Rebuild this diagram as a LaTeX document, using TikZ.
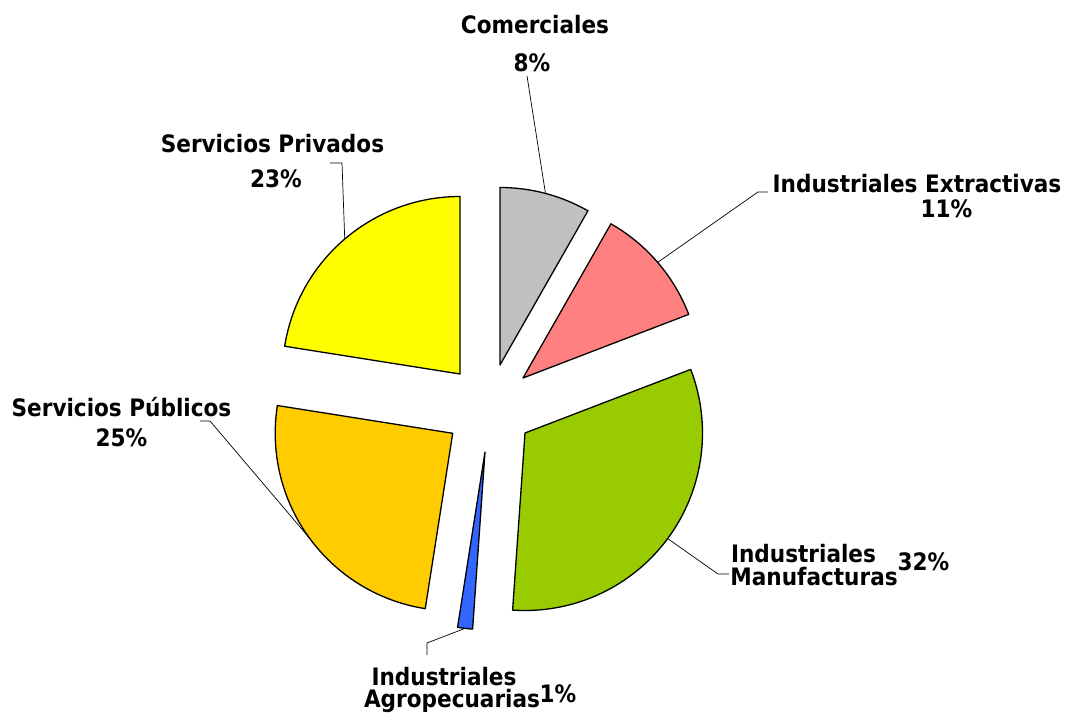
\documentclass[tikz,border=0pt]{standalone}
\usepackage{fontspec}
\newfontfamily\lblfont{DejaVu Sans Condensed Bold}
\usetikzlibrary{calc}
\definecolor{sgray}{HTML}{C0C0C0}
\definecolor{spink}{HTML}{FF8080}
\definecolor{sgreen}{HTML}{99CC00}
\definecolor{sblue}{HTML}{3366FF}
\definecolor{sorange}{HTML}{FFCC00}
\definecolor{syellow}{HTML}{FFFF00}
\begin{document}
\begin{tikzpicture}[x=1pt,y=1pt,
  slice/.style={draw=black, line width=1.3pt, line join=round},
  leader/.style={draw=black, line width=0.7pt},
  lbl/.style={font=\lblfont\fontsize{24}{24}\selectfont, anchor=base, inner sep=0pt}]
\useasboundingbox (0,0) rectangle (1066,715);
\def\R{177.5}
\foreach \n/\ax/\ay/\sa/\ea/\col in {
  g/500/350/90/60.3/sgray,
  p/523/337/60.3/21.0/spink,
  m/525/282/21.0/-94.0/sgreen,
  b/485/263/-94.0/-98.9/sblue,
  o/452.7/281.7/-98.9/-189/sorange,
  y/460/341/-189/-270/syellow} {
  \draw[slice, fill=\col] (\ax,\ay) -- ++(\sa:\R) arc[start angle=\sa, end angle=\ea, radius=\R] -- cycle;
  \coordinate (\n M) at ($(\ax,\ay)+({(\sa+\ea)/2}:\R)$);
}
% labels
\node[lbl] (comT) at (535,681) {Comerciales};
\node[lbl] (comP) at (532,643) {8\%};
\node[lbl] (priT) at (272.5,562) {Servicios Privados};
\node[lbl] (priP) at (276,527) {23\%};
\node[lbl] (extT) at (917,522) {Industriales Extractivas};
\node[lbl] (extP) at (946.5,497) {11\%};
\node[lbl] (pubT) at (121.5,298) {Servicios Públicos};
\node[lbl] (pubP) at (121.5,268.3) {25\%};
\node[lbl] (manT) at (803.5,152) {Industriales};
\node[lbl] (manT2) at (814,129) {Manufacturas};
\node[lbl] (manP) at (923.5,144.3) {32\%};
\node[lbl] (agrT) at (444,29) {Industriales};
\node[lbl] (agrT2) at (452,7) {Agropecuarias};
\node[lbl] (agrP) at (558,12) {1\%};
% leader ends
\coordinate (comL) at (527,639);
\coordinate (extL) at (768,523);
\coordinate (extK) at (758,523);
\coordinate (priL) at (330,552);
\coordinate (priK) at (342,552);
\coordinate (pubL) at (200,294);
\coordinate (pubK) at (210,294);
\coordinate (manL) at (729,141);
\coordinate (manK) at (718,141);
\coordinate (agrL) at (427,60);
\coordinate (agrK) at (427,72);
\draw[leader] (comL) -- (gM);
\draw[leader] (extL) -- (extK) -- (pM);
\draw[leader] (priL) -- (priK) -- (yM);
\draw[leader] (pubL) -- (pubK) -- (oM);
\draw[leader] (manL) -- (manK) -- (mM);
\draw[leader] (agrL) -- (agrK) -- (bM);
\end{tikzpicture}
\end{document}
